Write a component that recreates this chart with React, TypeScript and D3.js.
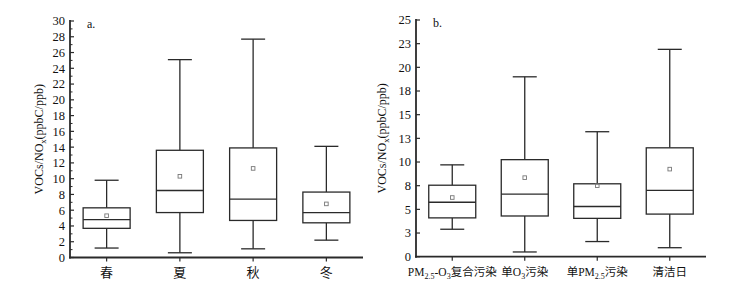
import React from 'react';
import * as d3 from 'd3';

// Panel a: seasons
const seasons = ['春', '夏', '秋', '冬'];
const seasonMin = [1.2, 0.6, 1.1, 2.2];
const seasonQ1 = [3.7, 5.7, 4.7, 4.4];
const seasonMedian = [4.8, 8.5, 7.4, 5.7];
const seasonQ3 = [6.3, 13.6, 13.9, 8.3];
const seasonMax = [9.8, 25.1, 27.7, 14.1];
const seasonMean = [5.3, 10.3, 11.3, 6.8];
const seasonTicks = d3.range(0, 31, 2);
const seasonMinorTicks = d3.range(1, 30, 2);

// Panel b: pollution types
const types = ['PM2.5-O3复合污染', '单O3污染', '单PM2.5污染', '清洁日'];
const typeMin = [2.9, 0.5, 1.6, 0.95];
const typeQ1 = [4.1, 4.3, 4.05, 4.5];
const typeMedian = [5.75, 6.6, 5.3, 7.0];
const typeQ3 = [7.55, 10.25, 7.7, 11.5];
const typeMax = [9.7, 19.0, 13.2, 21.9];
const typeMean = [6.25, 8.35, 7.5, 9.25];
const typeTicks = d3.range(0, 25.01, 2.5);
const typeTickLabels = ['0', '3', '5', '8', '10', '13', '15', '18', '20', '23', '25'];

const FONT = '"Liberation Serif", "Times New Roman", "Noto Sans CJK SC", serif';
const CJK = '"Liberation Serif", "Noto Sans CJK SC", serif';
const INK = '#2a2a2a';

function renderLabel(s: string) {
  const parts: React.ReactNode[] = [];
  const re = /(PM)(2\.5)|(O)(3)/g;
  let last = 0;
  let m: RegExpExecArray | null;
  let k = 0;
  let pending = 0;
  const pushText = (t: string) => {
    parts.push(<tspan key={k++} dy={pending || undefined}>{t}</tspan>);
    pending = 0;
  };
  while ((m = re.exec(s)) !== null) {
    if (m.index > last) pushText(s.slice(last, m.index));
    const base = m[1] || m[3];
    const sub = m[2] || m[4];
    pushText(base);
    parts.push(<tspan key={k++} dy={3} fontSize={8}>{sub}</tspan>);
    pending = -3;
    last = m.index + m[0].length;
  }
  if (last < s.length) pushText(s.slice(last));
  return parts;
}

type PanelProps = {
  cats: string[];
  mins: number[]; q1: number[]; med: number[]; q3: number[]; maxs: number[]; means: number[];
  yMax: number; yTop: number; yBottom: number; xLeft: number; xRight: number;
  ticks: number[]; tickLabels: string[]; minor: number[];
  letter: string; labelX: number; catFont: number;
};

function Panel(p: PanelProps) {
  const x = d3.scaleBand<string>().domain(p.cats).range([p.xLeft, p.xRight]).padding(0);
  const y = d3.scaleLinear().domain([0, p.yMax]).range([p.yBottom, p.yTop]);
  const boxW = 47;
  const capW = 24;
  const midY = (p.yTop + p.yBottom) / 2;
  return (
    <g>
      {p.cats.map((c, i) => {
        const cx = (x(c) as number) + x.bandwidth() / 2;
        return (
          <g key={c} stroke={INK} fill="none" strokeWidth={1.3}>
            <line x1={cx} x2={cx} y1={y(p.maxs[i])} y2={y(p.q3[i])} />
            <line x1={cx} x2={cx} y1={y(p.q1[i])} y2={y(p.mins[i])} />
            <line x1={cx - capW / 2} x2={cx + capW / 2} y1={y(p.maxs[i])} y2={y(p.maxs[i])} />
            <line x1={cx - capW / 2} x2={cx + capW / 2} y1={y(p.mins[i])} y2={y(p.mins[i])} />
            <rect x={cx - boxW / 2} y={y(p.q3[i])} width={boxW} height={y(p.q1[i]) - y(p.q3[i])} fill="#fff" />
            <line x1={cx - boxW / 2} x2={cx + boxW / 2} y1={y(p.med[i])} y2={y(p.med[i])} />
            <rect x={cx - 1.8} y={y(p.means[i]) - 1.8} width={3.6} height={3.6} stroke="#777" strokeWidth={0.9} />
          </g>
        );
      })}
      <line x1={p.xLeft} x2={p.xLeft} y1={p.yTop - 1} y2={p.yBottom + 1} stroke={INK} strokeWidth={1.8} />
      {p.ticks.map((t, i) => (
        <g key={'t' + i}>
          <line x1={p.xLeft} x2={p.xLeft + 4} y1={y(t)} y2={y(t)} stroke={INK} strokeWidth={1.2} />
          <text x={p.xLeft - 5} y={y(t)} dy="0.35em" textAnchor="end" fontFamily={FONT} fontSize={12.5} fill="#111">
            {p.tickLabels[i]}
          </text>
        </g>
      ))}
      {p.minor.map((t) => (
        <line key={'m' + t} x1={p.xLeft} x2={p.xLeft + 2.5} y1={y(t)} y2={y(t)} stroke={INK} strokeWidth={1} />
      ))}
      <line x1={p.xLeft - 1} x2={p.xRight} y1={p.yBottom} y2={p.yBottom} stroke={INK} strokeWidth={1.8} />
      {p.cats.map((c) => {
        const cx = (x(c) as number) + x.bandwidth() / 2;
        return (
          <g key={'x' + c}>
            <line x1={cx} x2={cx} y1={p.yBottom} y2={p.yBottom + 4} stroke={INK} strokeWidth={1.2} />
            <text x={cx} y={p.yBottom + 19} textAnchor="middle" fontFamily={CJK} fontSize={p.catFont} fill="#111">
              {renderLabel(c)}
            </text>
          </g>
        );
      })}
      <text x={p.xLeft + 17} y={p.yTop + 7} fontFamily={FONT} fontSize={12} fill="#111">{p.letter}</text>
      <text transform={`translate(${p.labelX},${midY}) rotate(-90)`} textAnchor="middle" fontFamily={FONT} fontSize={12} fill="#111">
        <tspan>VOCs/NO</tspan>
        <tspan dy={3} fontSize={8.5}>x</tspan>
        <tspan dy={-3}>(ppbC/ppb)</tspan>
      </text>
    </g>
  );
}

export default function App() {
  return (
    <svg width={751} height={285} style={{ position: 'absolute', left: 0, top: 0, background: '#fff' }}>
      <rect width={751} height={285} fill="#fff" />
      <Panel
        cats={seasons} mins={seasonMin} q1={seasonQ1} med={seasonMedian} q3={seasonQ3} maxs={seasonMax} means={seasonMean}
        yMax={30} yTop={21} yBottom={257.5} xLeft={70} xRight={363}
        ticks={seasonTicks} tickLabels={seasonTicks.map(String)} minor={seasonMinorTicks}
        letter="a." labelX={43} catFont={13}
      />
      <Panel
        cats={types} mins={typeMin} q1={typeQ1} med={typeMedian} q3={typeQ3} maxs={typeMax} means={typeMean}
        yMax={25} yTop={20} yBottom={256.7} xLeft={416} xRight={706}
        ticks={typeTicks} tickLabels={typeTickLabels} minor={[]}
        letter="b." labelX={386} catFont={11.5}
      />
    </svg>
  );
}
